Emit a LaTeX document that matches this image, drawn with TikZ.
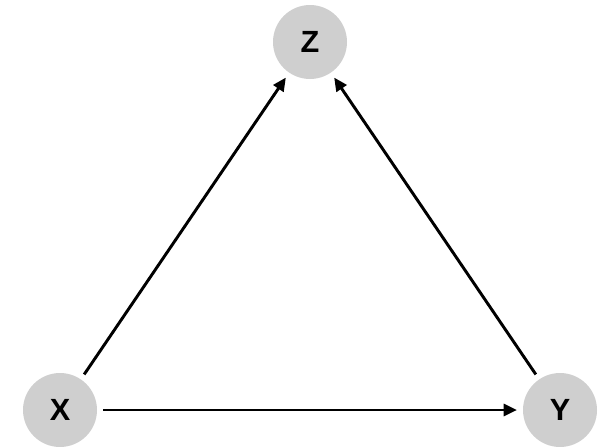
\documentclass[tikz,border=0pt]{standalone}
\usepackage{fontspec}
\setsansfont{Liberation Sans}
\usetikzlibrary{arrows.meta}

\begin{document}
\begin{tikzpicture}[x=0.75pt, y=-0.75pt,
    var/.style={circle,fill=black!19,minimum size=55.5pt,inner sep=0pt,outer sep=4.5pt,
      font=\sffamily\bfseries\fontsize{23}{27}\selectfont},
    edge/.style={-{Triangle[length=10pt,width=9pt]},line width=2.2pt}]
      \useasboundingbox (0,0) rectangle (609,446);
      \node[var] (Z) at (310, 42) {Z};
      \node[var] (X) at (60, 410) {X};
      \node[var] (Y) at (560, 410) {Y};
      \draw[edge] (X) -- (Z);
      \draw[edge] (Y) -- (Z);
      \draw[edge] (X) -- (Y);
   \end{tikzpicture}
\end{document}
